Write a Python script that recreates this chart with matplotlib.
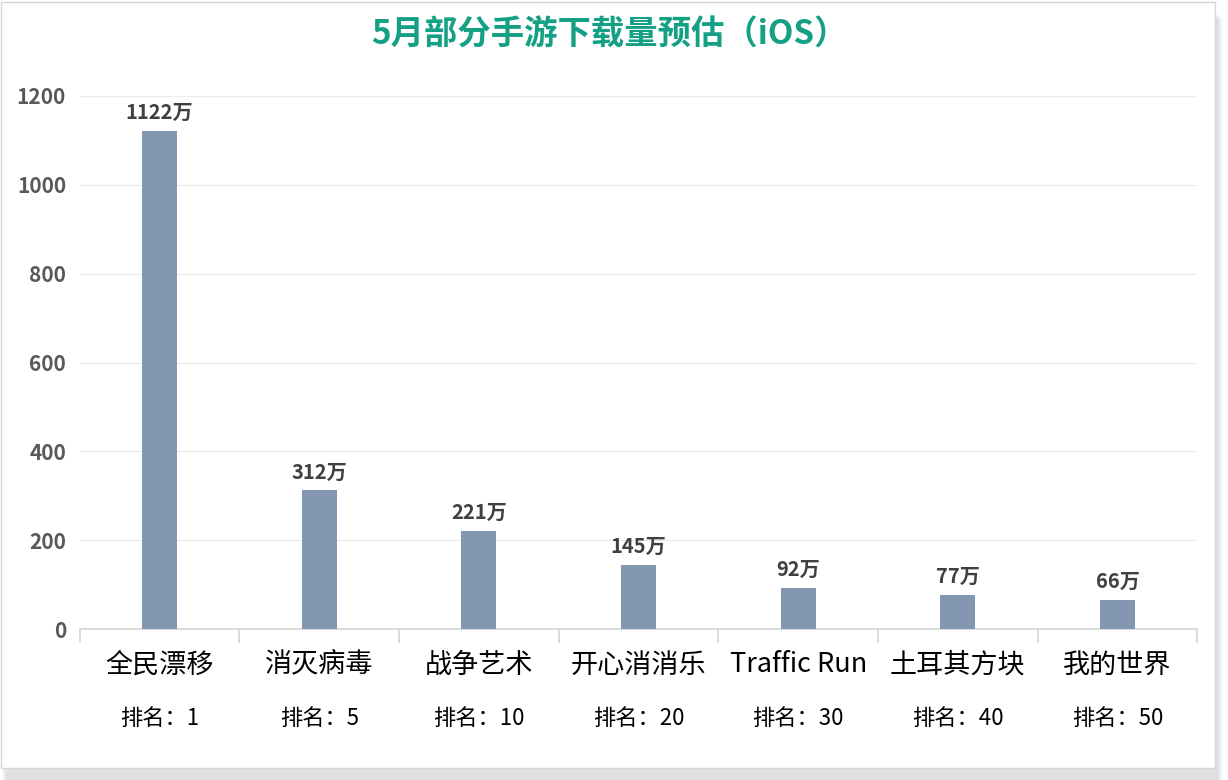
import matplotlib.pyplot as plt
import matplotlib.patches as mpatches
import numpy as np

plt.rcParams['font.family'] = ['Noto Sans CJK SC', 'DejaVu Sans']

games = ['全民漂移', '消灭病毒', '战争艺术', '开心消消乐', 'Traffic Run', '土耳其方块', '我的世界']
ranks = [1, 5, 10, 20, 30, 40, 50]
downloads = [1122, 312, 221, 145, 92, 77, 66]

BAR_COLOR = '#8497b0'
TITLE_COLOR = '#14a085'

fig = plt.figure(figsize=(12.28, 7.8), dpi=100)

# outer frame with a soft shadow
for i, a in enumerate([0.025, 0.04, 0.06]):
    off = 7 - i * 2
    fig.patches.append(mpatches.Rectangle((off / 1228, -off / 780), 1216 / 1228, 768 / 780,
                                          transform=fig.transFigure, facecolor='#000000',
                                          alpha=a, edgecolor='none', zorder=0))
fig.patches.append(mpatches.Rectangle((1 / 1228, 12 / 780), 1214 / 1228, 766 / 780,
                                      transform=fig.transFigure, facecolor='white',
                                      edgecolor='#d6d6d6', linewidth=1, zorder=1))

ax = fig.add_axes([0.065, 1 - 629 / 780, 0.91, (629 - 96) / 780])
ax.set_zorder(5)
ax.set_facecolor('none')

x = np.arange(len(games))
ax.bar(x, downloads, width=0.22, color=BAR_COLOR, zorder=3)

for xi, v in zip(x, downloads):
    ax.text(xi, v + 18, f'{v}万', ha='center', va='bottom', fontsize=14.5,
            fontweight='bold', color='#404040')

ax.set_ylim(0, 1200)
ax.set_xlim(-0.5, len(games) - 0.5)
ax.set_yticks(np.arange(0, 1201, 200))
ax.yaxis.grid(True, color='#ececec', linewidth=0.9, zorder=0)
ax.set_axisbelow(True)

for s in ['top', 'right', 'left']:
    ax.spines[s].set_visible(False)
ax.spines['bottom'].set_color('#d4d4d4')
ax.spines['bottom'].set_linewidth(1.2)

ax.tick_params(axis='y', length=0, labelsize=15, labelcolor='#595959', pad=10)
for lab in ax.get_yticklabels():
    lab.set_fontweight('bold')

ax.set_xticks(x)
ax.set_xticklabels([])
ax.tick_params(axis='x', which='major', length=0)
ax.set_xticks(np.arange(-0.5, len(games)), minor=True)
ax.tick_params(axis='x', which='minor', length=10, color='#d4d4d4', width=1.2)

for xi, g, r in zip(x, games, ranks):
    ax.annotate(g, xy=(xi, 0), xycoords='data', xytext=(0, -36), textcoords='offset pixels',
                ha='center', va='center', fontsize=19.5, color='#000000')
    ax.annotate(f'排名：{r}', xy=(xi, 0), xycoords='data', xytext=(0, -89),
                textcoords='offset pixels', ha='center', va='center', fontsize=16,
                color='#000000')

fig.text(0.496, 1 - 35 / 780, '5月部分手游下载量预估（iOS）', ha='center', va='center',
         fontsize=24, fontweight='bold', color=TITLE_COLOR, zorder=6)

fig.savefig('out.png', dpi=100)
